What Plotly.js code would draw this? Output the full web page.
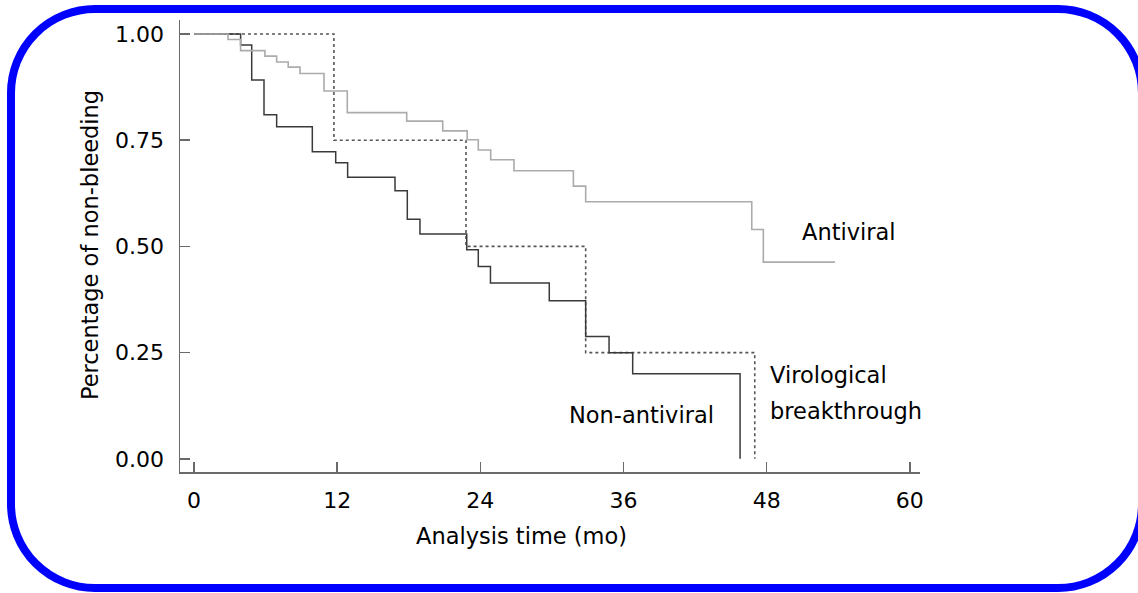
<!DOCTYPE html>
<html>
<head>
<meta charset="utf-8">
<script src="https://cdn.plot.ly/plotly-3.0.1.min.js"></script>
<style>
html,body{margin:0;padding:0;background:#fff;overflow:hidden;}
#wrap{position:relative;width:1138px;height:593px;overflow:hidden;}
#chart{position:absolute;left:0;top:0;width:1138px;height:593px;}
#frame{position:absolute;left:7px;top:5px;width:1139px;height:587px;box-sizing:border-box;border:8px solid #0000ff;border-radius:88px;pointer-events:none;}
</style>
</head>
<body>
<div id="wrap"><div id="chart"></div><div id="frame"></div></div>
<script>
// Kaplan-Meier step data (time in months, survival proportion)
const antiviralTime = [0, 2.85, 3.91, 5.95, 6.93, 7.90, 8.89, 10.9, 12.85, 17.83, 20.85, 22.9, 23.83, 24.87, 26.82, 31.8, 32.83, 46.75, 47.72, 53.73];
const antiviralSurv = [1.00, 0.987, 0.961, 0.948, 0.934, 0.922, 0.907, 0.866, 0.815, 0.795, 0.772, 0.751, 0.727, 0.704, 0.678, 0.642, 0.605, 0.540, 0.463, 0.463];

const nonAntiviralTime = [0, 3.91, 4.84, 5.87, 6.93, 9.92, 11.88, 12.88, 16.85, 17.88, 18.94, 22.86, 23.83, 24.85, 29.78, 32.83, 34.79, 36.77, 45.77];
const nonAntiviralSurv = [1.00, 0.974, 0.892, 0.810, 0.782, 0.723, 0.697, 0.663, 0.631, 0.564, 0.529, 0.492, 0.453, 0.414, 0.372, 0.288, 0.250, 0.200, 0.0];

const breakthroughTime = [0, 11.73, 22.8, 32.83, 47.0];
const breakthroughSurv = [1.00, 0.75, 0.50, 0.25, 0.0];

const xTicks = [0, 12, 24, 36, 48, 60];
const yTicks = [0, 0.25, 0.5, 0.75, 1.0];

const FONT = "DejaVu Sans, Verdana, sans-serif";

const traces = [
  {x: breakthroughTime, y: breakthroughSurv, mode: 'lines', line: {shape: 'hv', color: '#555555', width: 1.6, dash: 'dot'}, name: 'Virological breakthrough'},
  {x: nonAntiviralTime, y: nonAntiviralSurv, mode: 'lines', line: {shape: 'hv', color: '#3a3a3a', width: 1.5}, name: 'Non-antiviral'},
  {x: antiviralTime, y: antiviralSurv, mode: 'lines', line: {shape: 'hv', color: '#ababab', width: 1.6}, name: 'Antiviral'}
];

const layout = {
  width: 1138, height: 593,
  margin: {l: 180, r: 218, t: 20, b: 121},
  paper_bgcolor: '#ffffff', plot_bgcolor: '#ffffff',
  showlegend: false,
  font: {family: FONT, color: '#000'},
  xaxis: {
    range: [-1.17, 60.85], tickvals: xTicks, ticktext: xTicks.map(String),
    showgrid: false, zeroline: false, showline: true, linecolor: '#6a6a6a', linewidth: 1.5,
    ticks: 'inside', ticklen: 10, tickwidth: 1.5, tickcolor: '#6a6a6a',
    tickfont: {family: FONT, size: 22, color: '#000'}, ticklabelstandoff: 8
  },
  yaxis: {
    range: [-0.031, 1.033], tickvals: yTicks, ticktext: yTicks.map(v => v.toFixed(2)),
    showgrid: false, zeroline: false, showline: true, linecolor: '#6a6a6a', linewidth: 1.5,
    ticks: 'inside', ticklen: 10, tickwidth: 1.5, tickcolor: '#6a6a6a',
    tickfont: {family: FONT, size: 22, color: '#000'}, ticklabelstandoff: 10
  },
  annotations: [
    {xref: 'paper', yref: 'paper', x: 0.462, y: 0, yshift: -64, xanchor: 'center', yanchor: 'middle', showarrow: false, text: 'Analysis time (mo)', font: {family: FONT, size: 22.5, color: '#000'}},
    {xref: 'paper', yref: 'paper', x: -0.1216, y: 0.502, xanchor: 'center', yanchor: 'middle', textangle: -90, showarrow: false, text: 'Percentage of non-bleeding', font: {family: FONT, size: 22.5, color: '#000'}},
    {xref: 'paper', yref: 'paper', x: 0.8378, y: 0.531, xanchor: 'left', yanchor: 'middle', showarrow: false, text: 'Antiviral', font: {family: FONT, size: 22.5, color: '#000'}},
    {xref: 'paper', yref: 'paper', x: 0.7946, y: 0.2146, xanchor: 'left', yanchor: 'middle', showarrow: false, text: 'Virological', font: {family: FONT, size: 22.5, color: '#000'}},
    {xref: 'paper', yref: 'paper', x: 0.7946, y: 0.135, xanchor: 'left', yanchor: 'middle', showarrow: false, text: 'breakthrough', font: {family: FONT, size: 22.5, color: '#000'}},
    {xref: 'paper', yref: 'paper', x: 0.523, y: 0.126, xanchor: 'left', yanchor: 'middle', showarrow: false, text: 'Non-antiviral', font: {family: FONT, size: 22.5, color: '#000'}}
  ]
};

Plotly.newPlot('chart', traces, layout, {staticPlot: true, displayModeBar: false});
</script>
</body>
</html>
